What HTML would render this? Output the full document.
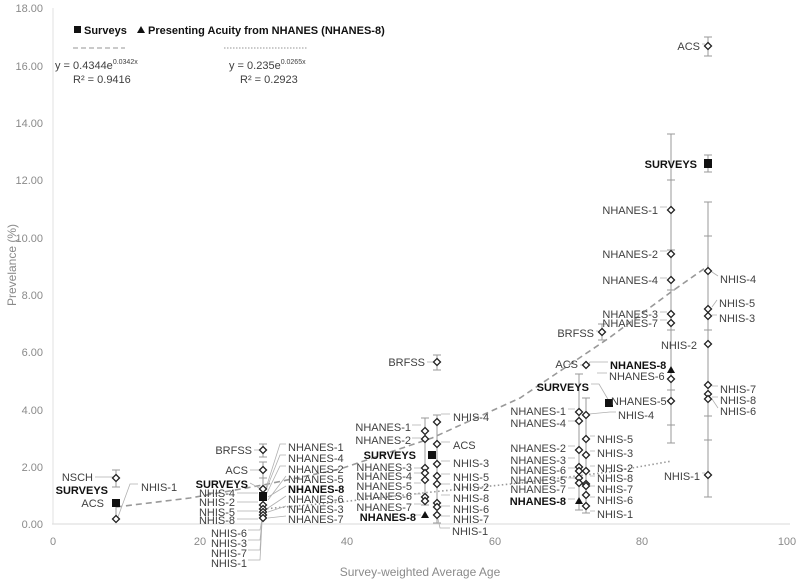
<!DOCTYPE html>
<html><head><meta charset="utf-8"><style>
html,body{margin:0;padding:0;background:#fff;}
svg{display:block;font-family:"Liberation Sans",sans-serif;}
.l{font-size:11px;fill:#404040;}
.b{font-size:11px;fill:#111;font-weight:bold;}
.ax{font-size:11px;fill:#8a8a8a;}
.ld{stroke:#b0b0b0;stroke-width:0.8;fill:none;}
.eb{stroke:#999;stroke-width:1;fill:none;}
.d{fill:#fff;stroke:#222;stroke-width:1.3;}
</style></head><body>
<svg width="800" height="582" viewBox="0 0 800 582">
<defs><path id="dm" d="M0,-3.5 L3.5,0 L0,3.5 L-3.5,0Z" class="d"/></defs>
<!-- axes -->
<line x1="52" y1="524" x2="790" y2="524" stroke="#d9d9d9" stroke-width="1"/>
<line x1="53" y1="8" x2="53" y2="524" stroke="#e0e0e0" stroke-width="1"/>
<g class="ax" text-anchor="end">
<text x="43" y="528">0.00</text><text x="43" y="471">2.00</text><text x="43" y="414">4.00</text><text x="43" y="356">6.00</text><text x="43" y="299">8.00</text><text x="43" y="242">10.00</text><text x="43" y="184">12.00</text><text x="43" y="127">14.00</text><text x="43" y="70">16.00</text><text x="43" y="12">18.00</text>
</g>
<g class="ax" text-anchor="middle">
<text x="53" y="545">0</text><text x="200" y="545">20</text><text x="347" y="545">40</text><text x="495" y="545">60</text><text x="642" y="545">80</text><text x="787" y="545">100</text>
<text x="420" y="576" font-size="12">Survey-weighted Average Age</text>
<text transform="translate(16,265) rotate(-90)" font-size="12">Prevelance (%)</text>
</g>
<!-- legend -->
<rect x="74" y="26" width="7" height="7" fill="#111"/>
<text x="84" y="34" class="b" font-size="12">Surveys</text>
<polygon points="141,26 145,33 137,33" fill="#111"/>
<text x="148" y="34" class="b" font-size="12">Presenting Acuity from NHANES (NHANES-8)</text>
<line x1="73" y1="48" x2="125" y2="48" stroke="#aaa" stroke-width="1.2" stroke-dasharray="5,3"/>
<line x1="224" y1="48" x2="308" y2="48" stroke="#aaa" stroke-width="1.2" stroke-dasharray="1.5,1.5"/>
<text x="55" y="69" class="l" font-size="12">y = 0.4344e<tspan font-size="7" dy="-5">0.0342x</tspan></text>
<text x="73" y="83" class="l" font-size="12">R² = 0.9416</text>
<text x="229" y="69" class="l" font-size="12">y = 0.235e<tspan font-size="7" dy="-5">0.0265x</tspan></text>
<text x="240" y="83" class="l" font-size="12">R² = 0.2923</text>
<!-- trend lines -->
<path d="M116,507 L190,498 L263,485 L340,469 L432,438 L520,398 L609,338 L671,292 L708,266" stroke="#999" stroke-width="1.6" fill="none" stroke-dasharray="6,4"/>
<path d="M263,509 L340,502 L432,492 L520,483 L609,472 L672,461" stroke="#999" stroke-width="1.6" fill="none" stroke-dasharray="1.5,2.5"/>
<!-- error bars -->
<g class="eb">
<path d="M116,470V487M112,470h8M112,487h8"/>
<path d="M116,500V522"/>
<path d="M263,444V457M259,444h8M259,457h8M263,462V520M259,462h8M259,478h8"/>
<path d="M425,418V505M421,418h8M421,505h8M437,415V523M433,415h8M433,523h8"/>
<path d="M437,355V370M433,355h8M433,370h8"/>
<path d="M579,374V510M575,374h8M575,510h8M586,398V513M582,398h8M582,513h8"/>
<path d="M602,324V340M598,324h8M598,340h8"/>
<path d="M671,134V443M667,134h8M667,443h8M667,180h8M667,250h8M667,290h8M667,330h8M667,390h8M667,425h8"/>
<path d="M708,202V497M704,202h8M704,497h8M704,236h8M704,330h8M704,416h8M704,440h8"/>
<path d="M708,155V172M704,155h8M704,172h8M708,37V56M704,37h8M704,56h8"/>
</g>
<!-- leader lines -->
<g class="ld">
<path d="M95,477H106L114,477M138,484L130,484L118,517"/>
<path d="M254,450H259M250,470H261M250,483L261,489M237,493H258M237,502H258M237,511H258M237,519H258M286,444L280,444L266,488M286,455L280,455L266,490M286,466L280,466L266,495M286,476L268,500M286,486L268,497M286,496L268,508M286,506L268,512M286,516L268,518M248,530L260,530L262,520M248,540L260,540L262,522M248,550L260,550L262,522M248,560L260,560L262,522"/>
<path d="M427,362H433"/>
<path d="M412,425H421M412,438H421M414,468H421M414,473H421M414,483H421M414,494H421M414,504H421M414,515H421M450,414H441M450,442H441M450,461H441M450,474H441M450,484H441M450,495H441M450,506H441M450,516H441M450,528L440,528L438,519"/>
<path d="M568,409H575M568,421H575M568,446H575M568,458H575M568,468H575M568,478H575M568,488H575M568,499H575M595,436H590M595,451H590M595,466H590M595,476H590M595,486H590M595,497H590M595,511H590M616,412L610,412L589,414M591,384L599,384L609,401M580,365H582M596,331H598M608,362L590,362L587,368M607,373H597"/>
<path d="M660,207H667M660,251H667M660,278H667M660,312H667M660,320H667M718,276L712,272M717,300L712,307M717,315H712M718,386H712M718,397H712M718,408L712,399M702,473H705M702,44H705"/>
</g>
<!-- points group 1 -->
<use href="#dm" x="116" y="478"/><use href="#dm" x="116" y="519"/>
<rect x="112" y="499" width="8" height="8" fill="#111"/>
<!-- group 2 -->
<use href="#dm" x="263" y="450"/><use href="#dm" x="263" y="470"/><use href="#dm" x="263" y="489"/>
<use href="#dm" x="263" y="505"/><use href="#dm" x="263" y="509"/><use href="#dm" x="263" y="512"/><use href="#dm" x="263" y="515"/><use href="#dm" x="263" y="518"/>
<rect x="259" y="492" width="8" height="9" fill="#111"/>
<!-- group 3 -->
<use href="#dm" x="425" y="431"/><use href="#dm" x="425" y="439"/><use href="#dm" x="425" y="468"/><use href="#dm" x="425" y="473"/><use href="#dm" x="425" y="480"/><use href="#dm" x="425" y="497"/><use href="#dm" x="425" y="501"/>
<polygon points="425,511 429,518 421,518" fill="#111"/>
<use href="#dm" x="437" y="422"/><use href="#dm" x="437" y="444"/><use href="#dm" x="437" y="464"/><use href="#dm" x="437" y="476"/><use href="#dm" x="437" y="484"/><use href="#dm" x="437" y="503"/><use href="#dm" x="437" y="507"/><use href="#dm" x="437" y="515"/>
<use href="#dm" x="437" y="362"/>
<rect x="428" y="451" width="8" height="8" fill="#111"/>
<!-- group 4 -->
<use href="#dm" x="579" y="412"/><use href="#dm" x="579" y="421"/><use href="#dm" x="579" y="450"/><use href="#dm" x="579" y="467"/><use href="#dm" x="579" y="471"/><use href="#dm" x="579" y="478"/><use href="#dm" x="579" y="483"/>
<polygon points="579,497 583,504 575,504" fill="#111"/>
<use href="#dm" x="586" y="415"/><use href="#dm" x="586" y="439"/><use href="#dm" x="586" y="455"/><use href="#dm" x="586" y="471"/><use href="#dm" x="586" y="484"/><use href="#dm" x="586" y="486"/><use href="#dm" x="586" y="495"/><use href="#dm" x="586" y="506"/>
<use href="#dm" x="602" y="332"/><use href="#dm" x="586" y="365"/>
<rect x="605" y="399" width="8" height="8" fill="#111"/>
<!-- group 5 -->
<use href="#dm" x="671" y="210"/><use href="#dm" x="671" y="254"/><use href="#dm" x="671" y="280"/><use href="#dm" x="671" y="314"/><use href="#dm" x="671" y="323"/><use href="#dm" x="671" y="379"/><use href="#dm" x="671" y="401"/>
<polygon points="671,366 675,373 667,373" fill="#111"/>
<use href="#dm" x="708" y="271"/><use href="#dm" x="708" y="309"/><use href="#dm" x="708" y="316"/><use href="#dm" x="708" y="344"/><use href="#dm" x="708" y="385"/><use href="#dm" x="708" y="394"/><use href="#dm" x="708" y="399"/><use href="#dm" x="708" y="475"/><use href="#dm" x="708" y="46"/>
<rect x="704" y="159" width="8" height="9" fill="#111"/>
<!-- labels -->
<g class="l" text-anchor="end">
<text x="93" y="481">NSCH</text><text x="104" y="507">ACS</text>
<text x="252" y="454">BRFSS</text><text x="248" y="474">ACS</text>
<text x="235" y="497">NHIS-4</text><text x="235" y="506">NHIS-2</text><text x="235" y="516">NHIS-5</text><text x="235" y="524">NHIS-8</text>
<text x="247" y="537">NHIS-6</text><text x="247" y="547">NHIS-3</text><text x="247" y="557">NHIS-7</text><text x="247" y="567">NHIS-1</text>
<text x="425" y="366">BRFSS</text>
<text x="411" y="431">NHANES-1</text><text x="411" y="444">NHANES-2</text><text x="412" y="471">NHANES-3</text><text x="412" y="480">NHANES-4</text><text x="412" y="490">NHANES-5</text><text x="412" y="500">NHANES-6</text><text x="412" y="511">NHANES-7</text>
<text x="566" y="415">NHANES-1</text><text x="566" y="427">NHANES-4</text><text x="566" y="452">NHANES-2</text><text x="566" y="464">NHANES-3</text><text x="566" y="474">NHANES-6</text><text x="566" y="484">NHANES-5</text><text x="566" y="493">NHANES-7</text>
<text x="578" y="368">ACS</text><text x="594" y="337">BRFSS</text>
<text x="658" y="214">NHANES-1</text><text x="658" y="258">NHANES-2</text><text x="658" y="284">NHANES-4</text><text x="658" y="318">NHANES-3</text><text x="658" y="327">NHANES-7</text>
<text x="697" y="349">NHIS-2</text><text x="700" y="480">NHIS-1</text><text x="700" y="50">ACS</text>
</g>
<g class="b" text-anchor="end">
<text x="108" y="494">SURVEYS</text><text x="248" y="488">SURVEYS</text><text x="416" y="459">SURVEYS</text><text x="416" y="521">NHANES-8</text>
<text x="589" y="391">SURVEYS</text><text x="566" y="505">NHANES-8</text><text x="697" y="168">SURVEYS</text>
</g>
<g class="l">
<text x="141" y="491">NHIS-1</text>
<text x="288" y="451">NHANES-1</text><text x="288" y="462">NHANES-4</text><text x="288" y="473">NHANES-2</text><text x="288" y="483">NHANES-5</text><text x="288" y="503">NHANES-6</text><text x="288" y="513">NHANES-3</text><text x="288" y="523">NHANES-7</text>
<text x="453" y="421">NHIS-4</text><text x="453" y="449">ACS</text><text x="453" y="467">NHIS-3</text><text x="453" y="481">NHIS-5</text><text x="453" y="491">NHIS-2</text><text x="453" y="502">NHIS-8</text><text x="453" y="513">NHIS-6</text><text x="453" y="523">NHIS-7</text><text x="452" y="535">NHIS-1</text>
<text x="597" y="443">NHIS-5</text><text x="597" y="457">NHIS-3</text><text x="597" y="472">NHIS-2</text><text x="597" y="482">NHIS-8</text><text x="597" y="493">NHIS-7</text><text x="597" y="504">NHIS-6</text><text x="597" y="518">NHIS-1</text>
<text x="618" y="419">NHIS-4</text><text x="611" y="405">NHANES-5</text><text x="609" y="380">NHANES-6</text>
<text x="720" y="283">NHIS-4</text><text x="719" y="307">NHIS-5</text><text x="719" y="322">NHIS-3</text><text x="720" y="393">NHIS-7</text><text x="720" y="404">NHIS-8</text><text x="720" y="415">NHIS-6</text>
</g>
<g class="b">
<text x="288" y="493">NHANES-8</text><text x="610" y="369">NHANES-8</text>
</g>
</svg>
</body></html>
